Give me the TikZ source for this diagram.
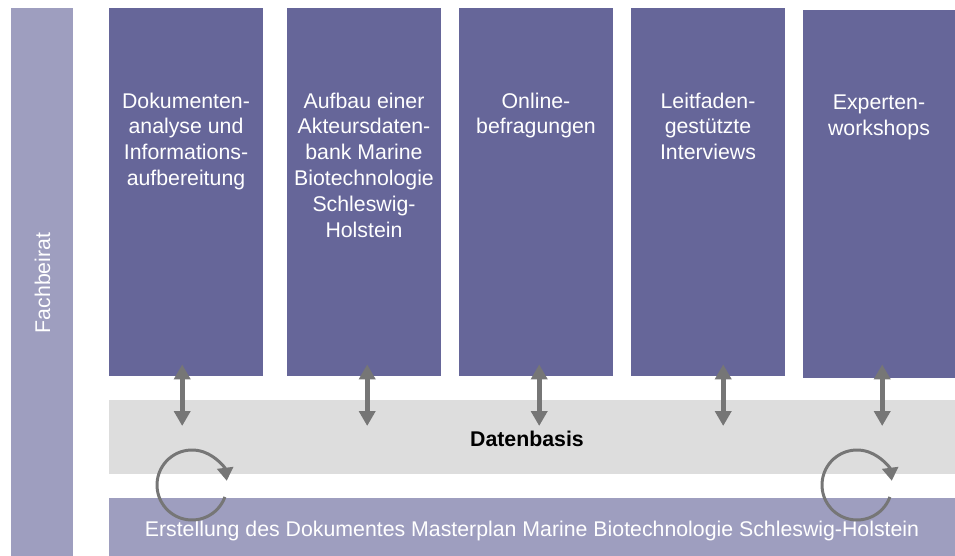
\documentclass[tikz,border=0pt]{standalone}
\usepackage{fontspec}
\setmainfont{Liberation Sans}
\usetikzlibrary{arrows.meta}
\definecolor{darkbox}{RGB}{102,102,153}
\definecolor{lightbox}{RGB}{158,158,191}
\definecolor{dbgray}{RGB}{221,221,221}
\definecolor{arrgray}{RGB}{118,118,118}
\tikzset{
  colbox/.style={rectangle, fill=darkbox, draw=none, inner sep=0pt, anchor=north west, minimum width=154pt, minimum height=368pt},
  coltext/.style={anchor=north, inner sep=0pt, align=center, text=white, font=\fontsize{21.3pt}{25.8pt}\selectfont},
  band/.style={rectangle, draw=none, inner sep=0pt, anchor=north west},
  dbl/.style={draw=arrgray, line width=5pt, {Triangle[width=16pt,length=15pt]}-{Triangle[width=16pt,length=15pt]}},
  cyc/.style={draw=arrgray, line width=3pt, -{Triangle[width=16pt,length=13pt]}}
}
\begin{document}
\begin{tikzpicture}[x=1pt,y=-1pt]
\useasboundingbox (0,0) rectangle (955,556);
% left bar
\node[band, fill=lightbox, minimum width=62pt, minimum height=548pt] (fb) at (11,8) {};
\node[rotate=90, anchor=base, inner sep=0pt, text=white, font=\fontsize{21.3pt}{25.8pt}\selectfont] (fbt) at (50,283) {Fachbeirat};
% bands
\node[band, fill=dbgray, minimum width=846pt, minimum height=74pt] (db) at (109,400) {};
\node[anchor=base, inner sep=0pt, font=\fontsize{21.3pt}{25.8pt}\selectfont\bfseries] (dbt) at (527,446) {Datenbasis};
\node[band, fill=lightbox, minimum width=846pt, minimum height=58pt] (ms) at (109,498) {};
\node[anchor=base, inner sep=0pt, text=white, font=\fontsize{21.3pt}{25.8pt}\selectfont] (mst) at (532,536) {Erstellung des Dokumentes Masterplan Marine Biotechnologie Schleswig-Holstein};
% columns
\node[colbox] (b1) at (109,8) {};
\node[colbox] (b2) at (287,8) {};
\node[colbox] (b3) at (459,8) {};
\node[colbox] (b4) at (631,8) {};
\node[colbox, minimum width=152pt] (b5) at (803,10) {};
\node[coltext] (t1) at (186,92.5) {Dokumenten-\\analyse und\\Informations-\\aufbereitung};
\node[coltext] (t2) at (364,92.5) {Aufbau einer\\Akteursdaten-\\bank Marine\\Biotechnologie\\Schleswig-\\Holstein};
\node[coltext] (t3) at (536,92.5) {Online-\\befragungen};
\node[coltext] (t4) at (708,92.5) {Leitfaden-\\gestützte\\Interviews};
\node[coltext] (t5) at (879,94.5) {Experten-\\workshops};
% double arrows
\draw[dbl] ([xshift=-4pt,yshift=12pt]b1.south) -- ([xshift=-4pt,yshift=-26pt]b1.south |- db.north);
\draw[dbl] ([xshift=3pt,yshift=12pt]b2.south) -- ([xshift=3pt,yshift=-26pt]b2.south |- db.north);
\draw[dbl] ([xshift=3pt,yshift=12pt]b3.south) -- ([xshift=3pt,yshift=-26pt]b3.south |- db.north);
\draw[dbl] ([xshift=15pt,yshift=12pt]b4.south) -- ([xshift=15pt,yshift=-26pt]b4.south |- db.north);
\draw[dbl] ([xshift=3pt,yshift=14pt]b5.south) -- ([xshift=3pt,yshift=-26pt]b5.south |- db.north);
% cycle arrows
\coordinate (c1) at (192,485);
\coordinate (c2) at (857,485);
\draw[cyc] ([shift={(20:35)}]c1) arc[start angle=20, end angle=353, radius=35];
\draw[cyc] ([shift={(20:35)}]c2) arc[start angle=20, end angle=353, radius=35];
\end{tikzpicture}
\end{document}
